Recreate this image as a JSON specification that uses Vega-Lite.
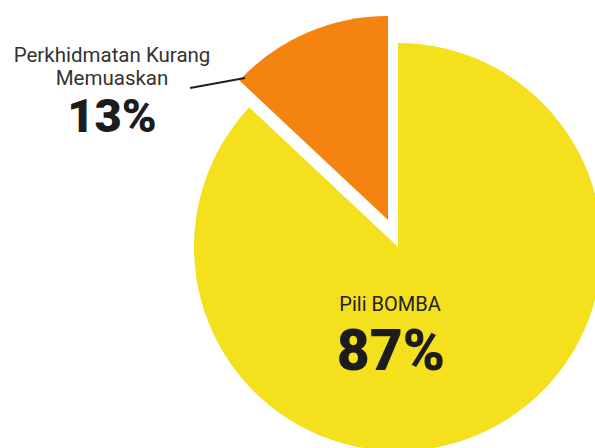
{
  "$schema": "https://vega.github.io/schema/vega-lite/v6.json",
  "width": 394,
  "height": 402,
  "padding": {"left": 201, "top": 46, "right": 0, "bottom": 0},
  "autosize": {"type": "none"},
  "background": "#ffffff",
  "config": {"view": {"stroke": null}, "font": "Roboto"},
  "data": {
    "values": [
      {"category": "Pili BOMBA", "label": "Pili BOMBA", "share": 0.87},
      {"category": "Perkhidmatan Kurang Memuaskan", "label": "Perkhidmatan Kurang\nMemuaskan", "share": 0.13}
    ]
  },
  "transform": [
    {"stack": "share", "groupby": [], "sort": [{"field": "share", "order": "descending"}], "as": ["s0", "s1"]}
  ],
  "layer": [
    {
      "transform": [{"filter": "datum.category === 'Pili BOMBA'"}],
      "mark": {"type": "arc", "radius": 204},
      "encoding": {
        "theta": {"field": "s0", "type": "quantitative", "scale": {"domain": [0, 1]}},
        "theta2": {"field": "s1"},
        "color": {"field": "category", "type": "nominal", "scale": {"domain": ["Pili BOMBA", "Perkhidmatan Kurang Memuaskan"], "range": ["#F4E01D", "#F5830F"]}, "legend": null}
      }
    },
    {
      "transform": [{"filter": "datum.category !== 'Pili BOMBA'"}],
      "mark": {"type": "arc", "radius": 204, "xOffset": -10, "yOffset": -27},
      "encoding": {
        "theta": {"field": "s0", "type": "quantitative", "scale": {"domain": [0, 1]}},
        "theta2": {"field": "s1"},
        "color": {"field": "category", "type": "nominal", "scale": {"domain": ["Pili BOMBA", "Perkhidmatan Kurang Memuaskan"], "range": ["#F4E01D", "#F5830F"]}, "legend": null}
      }
    },
    {
      "transform": [{"filter": "datum.category !== 'Pili BOMBA'"}],
      "mark": {"type": "point", "shape": "M-1,0.18L1,-0.18", "size": 3025, "filled": false, "stroke": "#222222", "strokeWidth": 2, "opacity": 1, "xOffset": -180.5, "yOffset": -164},
      "encoding": {}
    },
    {
      "transform": [{"filter": "datum.category === 'Pili BOMBA'"}],
      "mark": {"type": "text", "align": "center", "baseline": "alphabetic", "fontSize": 20, "color": "#222222", "dx": -8, "dy": 64},
      "encoding": {"text": {"field": "label", "type": "nominal"}}
    },
    {
      "transform": [{"filter": "datum.category === 'Pili BOMBA'"}],
      "mark": {"type": "text", "align": "center", "baseline": "alphabetic", "fontSize": 57, "fontWeight": 900, "color": "#1c1c1c", "dx": -7, "dy": 123},
      "encoding": {"text": {"field": "share", "type": "quantitative", "format": ".0%"}}
    },
    {
      "transform": [{"filter": "datum.category !== 'Pili BOMBA'"}],
      "mark": {"type": "text", "align": "center", "baseline": "alphabetic", "fontSize": 20.5, "color": "#333333", "lineBreak": "\n", "lineHeight": 23, "dx": -286, "dy": -185},
      "encoding": {"text": {"field": "label", "type": "nominal"}}
    },
    {
      "transform": [{"filter": "datum.category !== 'Pili BOMBA'"}],
      "mark": {"type": "text", "align": "center", "baseline": "alphabetic", "fontSize": 47, "fontWeight": 900, "color": "#1c1c1c", "dx": -286, "dy": -115},
      "encoding": {"text": {"field": "share", "type": "quantitative", "format": ".0%"}}
    }
  ]
}
